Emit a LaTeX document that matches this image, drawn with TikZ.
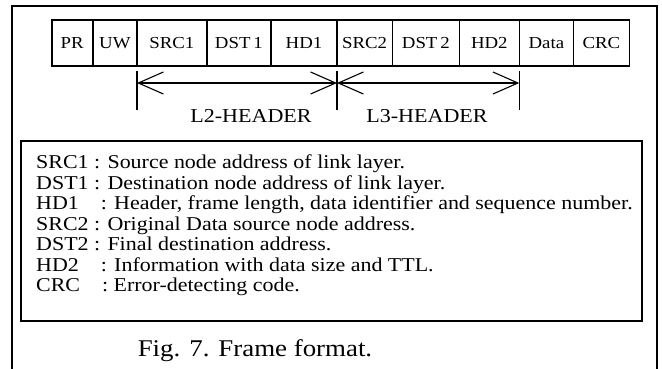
\documentclass[tikz,border=0pt]{standalone}
\usepackage{fontspec}
\setmainfont[FakeStretch=1.12]{Liberation Serif}
\usetikzlibrary{positioning,arrows.meta}

\begin{document}
\begin{tikzpicture}[x=1pt,y=-1pt,
	cell/.style={draw,line width=1.6pt,minimum height=46pt,inner sep=0pt,font=\fontsize{16.8}{18}\selectfont},
	span/.style={{Straight Barb[length=25pt,width=22pt]}-{Straight Barb[length=25pt,width=22pt]},line width=1.1pt},
	tick/.style={line width=1.6pt},
	lbl/.style={anchor=base,inner sep=0pt,font=\fontsize{19.7}{22}\selectfont},
	item/.style={anchor=base west,inner sep=0pt,font=\fontsize{19.6}{21}\selectfont}]
				\useasboundingbox (0,0) rectangle (662,369);
				\draw[line width=1.6pt] (12,369) -- (12,6) -- (657,6) -- (657,369);
				% frame fields
				\node[cell,minimum width=41pt] (pr) at (72.2,43) {PR};
				\node[cell,minimum width=44.3pt] (uw) at (114.85,43) {UW};
				\node[cell,minimum width=69.7pt] (srca) at (171.85,43) {SRC1};
				\node[cell,minimum width=64.3pt] (dsta) at (238.85,43) {DST\,1};
				\node[cell,minimum width=66pt] (hda) at (304,43) {HD1};
				\node[cell,minimum width=55.3pt] (srcb) at (364.65,43) {SRC2};
				\node[cell,minimum width=67pt] (dstb) at (425.8,43) {DST\,2};
				\node[cell,minimum width=60pt] (hdb) at (489.3,43) {HD2};
				\node[cell,minimum width=54.2pt] (data) at (546.4,43) {Data};
				\node[cell,minimum width=55.8pt] (crc) at (601.4,43) {CRC};
				% header spans
				\coordinate (ta) at (137,83);
				\coordinate (tb) at (337,83);
				\coordinate (tc) at (519.3,83);
				\draw[tick] (137,71) -- (137,110);
				\draw[tick] (337,71) -- (337,110);
				\draw[tick] (519.3,71) -- (519.3,110);
				\draw[span] (ta) -- (tb);
				\draw[span] (tb) -- (tc);
				\node[lbl] (ltwo) at (251,122) {L2-HEADER};
				\node[lbl] (lthree) at (427,122) {L3-HEADER};
				% legend
				\draw[line width=1.6pt] (21,141) rectangle (642,321);
				\node[item] (isrca) at (36,168.5) {SRC1 : Source node address of link layer.};
				\node[item] (idsta) at (36,189) {DST1 : Destination node address of link layer.};
				\node[item] (ihda) at (36,209.5) {HD1\ \ \ \ : Header, frame length, data identifier and sequence number.};
				\node[item] (isrcb) at (36,230) {SRC2 : Original Data source node address.};
				\node[item] (idstb) at (36,250.5) {DST2 : Final destination address.};
				\node[item] (ihdb) at (36,271) {HD2\ \ \ \ : Information with data size and TTL.};
				\node[item] (icrc) at (36,291.5) {CRC\ \ \ \ : Error-detecting code.};
				\node[anchor=base,inner sep=0pt,font=\fontsize{24}{26}\selectfont] (caption) at (255,356) {Fig. 7. Frame format.};
\end{tikzpicture}
\end{document}
